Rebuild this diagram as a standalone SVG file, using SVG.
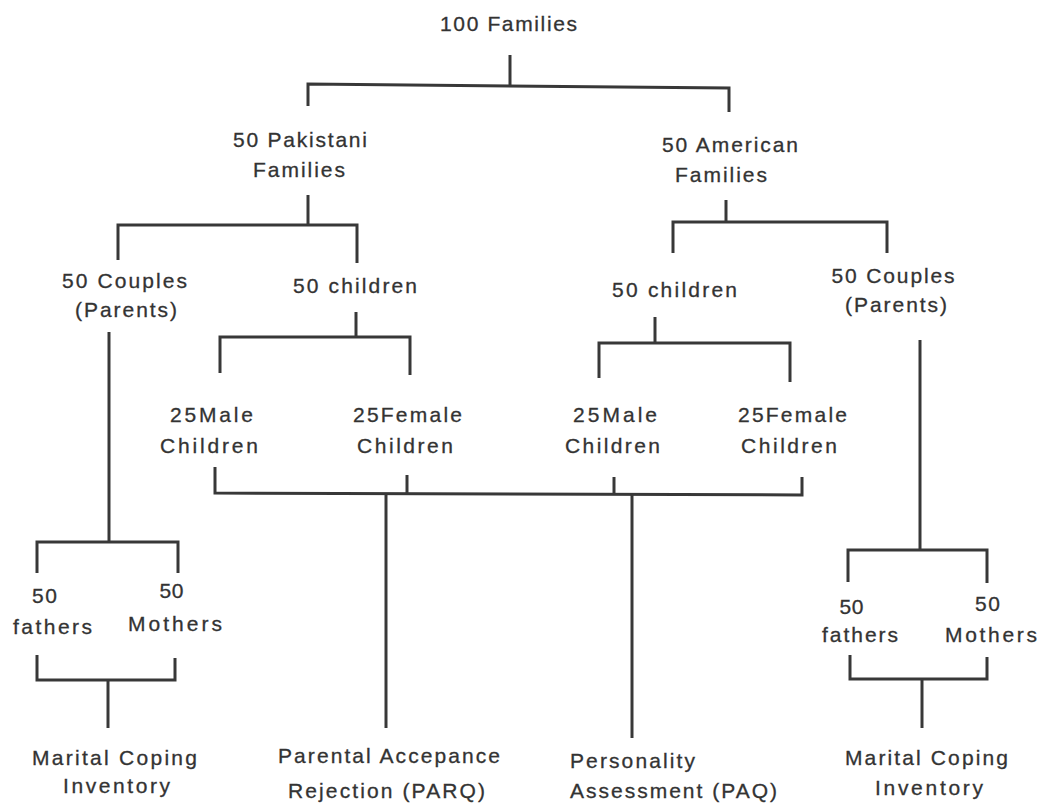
<svg xmlns="http://www.w3.org/2000/svg" width="1046" height="806" viewBox="0 0 1046 806">
  <style>
    .bg { fill: #ffffff; }
    text { font-family: "Liberation Sans", Arial, sans-serif; font-size: 21px; fill: #333333; stroke: #333333; stroke-width: 0.3; text-anchor: middle; }
    .left { text-anchor: start; }
    .wire { fill: none; stroke: #383838; stroke-width: 3; stroke-linecap: butt; stroke-linejoin: miter; }
  </style>
  <rect class="bg" x="0" y="0" width="1046" height="806"/>

  <!-- tree connectors -->
  <g id="connectors">
    <path class="wire" d="M510,55 V85"/>
    <path class="wire" d="M308,106 V84 L729,88 V112"/>

    <path class="wire" d="M308,195 V225"/>
    <path class="wire" d="M118,260 V225 H357 V263"/>
    <path class="wire" d="M726,200 V222"/>
    <path class="wire" d="M673,253 V222 H887 V253"/>

    <path class="wire" d="M356,312 V337"/>
    <path class="wire" d="M220,373 V337 H410 V375"/>
    <path class="wire" d="M655,317 V343"/>
    <path class="wire" d="M599,378 V343 H790 V382"/>

    <path class="wire" d="M215,467 V493 L802,495 V477"/>
    <path class="wire" d="M407,475 V494"/>
    <path class="wire" d="M614,477 V495"/>
    <path class="wire" d="M386,493 V728"/>
    <path class="wire" d="M632,495 V738"/>

    <path class="wire" d="M109,332 V542"/>
    <path class="wire" d="M37,573 V542 H178 V573"/>
    <path class="wire" d="M37,655 V680 H175 V658"/>
    <path class="wire" d="M108,680 V728"/>

    <path class="wire" d="M920,340 V550"/>
    <path class="wire" d="M848,582 V550 H987 V583"/>
    <path class="wire" d="M850,655 V679 H987 V657"/>
    <path class="wire" d="M922,679 V728"/>
  </g>

  <g id="root">
    <text x="508.5" y="31" textLength="137" lengthAdjust="spacing">100 Families</text>
  </g>

  <g id="pakistani">
    <text x="300" y="147" textLength="134" lengthAdjust="spacing">50 Pakistani</text>
    <text x="299" y="177" textLength="92" lengthAdjust="spacing">Families</text>
  </g>
  <g id="american">
    <text x="730" y="152" textLength="136" lengthAdjust="spacing">50 American</text>
    <text x="721" y="182" textLength="92" lengthAdjust="spacing">Families</text>
  </g>

  <g id="pk-couples">
    <text x="124.5" y="288" textLength="125" lengthAdjust="spacing">50 Couples</text>
    <text x="126" y="317" textLength="102" lengthAdjust="spacing">(Parents)</text>
  </g>
  <g id="pk-children">
    <text x="355" y="293" textLength="124" lengthAdjust="spacing">50 children</text>
  </g>
  <g id="us-children">
    <text x="674.5" y="297" textLength="125" lengthAdjust="spacing">50 children</text>
  </g>
  <g id="us-couples">
    <text x="893" y="283" textLength="123" lengthAdjust="spacing">50 Couples</text>
    <text x="896" y="312" textLength="102" lengthAdjust="spacing">(Parents)</text>
  </g>

  <g id="pk-male">
    <text x="211.5" y="422" textLength="83" lengthAdjust="spacing">25Male</text>
    <text x="209" y="453" textLength="98" lengthAdjust="spacing">Children</text>
  </g>
  <g id="pk-female">
    <text x="407.5" y="422" textLength="109" lengthAdjust="spacing">25Female</text>
    <text x="405" y="453" textLength="96" lengthAdjust="spacing">Children</text>
  </g>
  <g id="us-male">
    <text x="615" y="422" textLength="84" lengthAdjust="spacing">25Male</text>
    <text x="612.5" y="453" textLength="95" lengthAdjust="spacing">Children</text>
  </g>
  <g id="us-female">
    <text x="792.5" y="422" textLength="109" lengthAdjust="spacing">25Female</text>
    <text x="789" y="453" textLength="96" lengthAdjust="spacing">Children</text>
  </g>

  <g id="pk-fathers">
    <text x="44.5" y="603" textLength="25" lengthAdjust="spacing">50</text>
    <text x="52.5" y="634" textLength="79" lengthAdjust="spacing">fathers</text>
  </g>
  <g id="pk-mothers">
    <text x="171.5" y="598" textLength="24" lengthAdjust="spacing">50</text>
    <text x="175" y="631" textLength="94" lengthAdjust="spacing">Mothers</text>
  </g>
  <g id="us-fathers">
    <text x="851.5" y="614" textLength="24" lengthAdjust="spacing">50</text>
    <text x="860" y="642" textLength="76" lengthAdjust="spacing">fathers</text>
  </g>
  <g id="us-mothers">
    <text x="987.5" y="611" textLength="25" lengthAdjust="spacing">50</text>
    <text x="991" y="642" textLength="92" lengthAdjust="spacing">Mothers</text>
  </g>

  <g id="pk-mci">
    <text x="114.5" y="765" textLength="165" lengthAdjust="spacing">Marital Coping</text>
    <text x="116.5" y="793" textLength="107" lengthAdjust="spacing">Inventory</text>
  </g>
  <g id="parq">
    <text x="389" y="763" textLength="222" lengthAdjust="spacing">Parental Accepance</text>
    <text x="386.5" y="798" textLength="197" lengthAdjust="spacing">Rejection (PARQ)</text>
  </g>
  <g id="paq">
    <text class="left" x="570" y="768" textLength="125" lengthAdjust="spacing">Personality</text>
    <text class="left" x="570" y="798" textLength="207" lengthAdjust="spacing">Assessment (PAQ)</text>
  </g>
  <g id="us-mci">
    <text x="926.5" y="765" textLength="163" lengthAdjust="spacing">Marital Coping</text>
    <text x="929" y="795" textLength="108" lengthAdjust="spacing">Inventory</text>
  </g>
</svg>
